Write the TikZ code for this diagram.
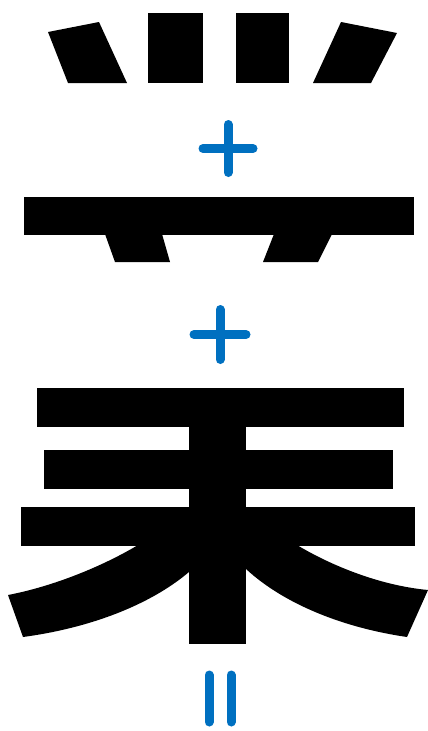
\documentclass[tikz,border=0pt]{standalone}
\usepackage{tikz}
\definecolor{opblue}{RGB}{0,112,192}

\begin{document}
\begin{tikzpicture}[x=1pt, y=-1pt,
    glyph/.style={fill=black},
    opsign/.style={draw=opblue, line width=9pt, line cap=round}]
  \useasboundingbox (0,0) rectangle (428,731);

  % top part: four dots
  \fill[glyph] (48,32) -- (99,22) -- (127,83) -- (68,83) -- cycle;
  \fill[glyph] (148,13) rectangle (203,83);
  \fill[glyph] (236,13) rectangle (289,83);
  \fill[glyph] (341,22) -- (397,33) -- (371,83) -- (313,83) -- cycle;

  % first plus
  \coordinate (p1) at (228,148.5);
  \draw[opsign] ([yshift=24]p1) -- ([yshift=-24]p1);
  \draw[opsign] ([xshift=-25]p1) -- ([xshift=25]p1);

  % middle part: bar with two legs
  \fill[glyph] (24,197) rectangle (414,235);
  \fill[glyph] (105,234) -- (162,234) -- (170,262) -- (115,262) -- cycle;
  \fill[glyph] (274,234) -- (332,234) -- (318,262) -- (263,262) -- cycle;

  % second plus
  \coordinate (p2) at (220,334.5);
  \draw[opsign] ([yshift=25]p2) -- ([yshift=-25]p2);
  \draw[opsign] ([xshift=-26]p2) -- ([xshift=26]p2);

  % bottom part
  \fill[glyph] (37,388) rectangle (404,427);
  \fill[glyph] (44,450) rectangle (393,489);
  \fill[glyph] (21,507) rectangle (415,546);
  \fill[glyph] (189,426) rectangle (246,644);
  \fill[glyph] (138,545) .. controls (110,562) and (60,585) .. (8,595)
    -- (23,637) .. controls (90,628) and (150,605) .. (189,572) -- (189,545) -- cycle;
  \fill[glyph] (297,545) .. controls (325,562) and (375,585) .. (428,590)
    -- (407,637) .. controls (345,628) and (285,605) .. (246,569) -- (246,545) -- cycle;

  % equals sign
  \draw[opsign] (209,675) -- (209,722);
  \draw[opsign] (231,675) -- (231,722);
\end{tikzpicture}
\end{document}
